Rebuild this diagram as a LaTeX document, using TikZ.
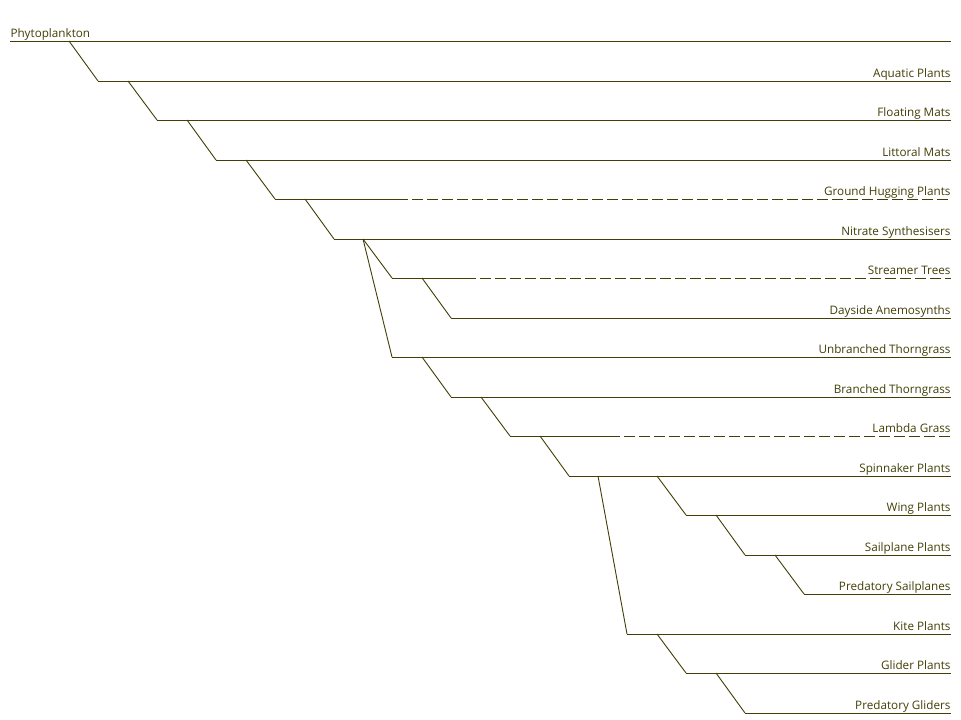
\documentclass[tikz,border=0pt]{standalone}
\usepackage{fontspec}
\setmainfont{Open Sans}
\definecolor{ink}{RGB}{66,62,6}
\begin{document}
\begin{tikzpicture}[x=1pt,y=-1pt,
  line width=1pt,
  branch/.style={draw=ink,line width=0.9pt},
  stem/.style={draw=ink,line width=1pt},
  dashstem/.style={draw=ink,line width=1pt,dash pattern=on 11pt off 4pt},
  lab/.style={anchor=base east,inner sep=0pt,yshift=3.5pt,text=ink,font=\fontsize{11.7}{14}\selectfont},
  root/.style={anchor=base west,inner sep=0pt,yshift=3.5pt,text=ink,font=\fontsize{11.7}{14}\selectfont}]
\useasboundingbox (0,0) rectangle (961,720);
% row coordinates: s = line start, e = line end
\coordinate (s0) at (10,41);   \coordinate (e0) at (951,41);
\coordinate (s1) at (98,81);   \coordinate (e1) at (951,81);
\coordinate (s2) at (157,120); \coordinate (e2) at (951,120);
\coordinate (s3) at (216,160); \coordinate (e3) at (951,160);
\coordinate (s4) at (275,199); \coordinate (e4) at (951,199);
\coordinate (s5) at (334,239); \coordinate (e5) at (951,239);
\coordinate (s6) at (392,278); \coordinate (e6) at (951,278);
\coordinate (s7) at (451,318); \coordinate (e7) at (951,318);
\coordinate (s8) at (392,357); \coordinate (e8) at (951,357);
\coordinate (s9) at (451,397); \coordinate (e9) at (951,397);
\coordinate (s10) at (510,436); \coordinate (e10) at (951,436);
\coordinate (s11) at (569,476); \coordinate (e11) at (951,476);
\coordinate (s12) at (686,515); \coordinate (e12) at (951,515);
\coordinate (s13) at (745,555); \coordinate (e13) at (951,555);
\coordinate (s14) at (804,594); \coordinate (e14) at (951,594);
\coordinate (s15) at (627,634); \coordinate (e15) at (951,634);
\coordinate (s16) at (686,673); \coordinate (e16) at (951,673);
\coordinate (s17) at (745,713); \coordinate (e17) at (951,713);
% branch points on parent lines
\coordinate (b1) at (69,41);
\coordinate (b2) at (128,81);
\coordinate (b3) at (187,120);
\coordinate (b4) at (246,160);
\coordinate (b5) at (305,199);
\coordinate (b6) at (363,239);
\coordinate (b7) at (422,278);
\coordinate (b9) at (422,357);
\coordinate (b10) at (481,397);
\coordinate (b11) at (540,436);
\coordinate (b12) at (657,476);
\coordinate (b13) at (716,515);
\coordinate (b14) at (775,555);
\coordinate (b15) at (598,476);
\coordinate (b16) at (657,634);
\coordinate (b17) at (716,673);
% dashed segments
\coordinate (d4a) at (408,199); \coordinate (d4b) at (412,199);
\coordinate (d6a) at (476,278); \coordinate (d6b) at (480,278);
\coordinate (d10a) at (620,436); \coordinate (d10b) at (624,436);
% horizontal stems
\draw[stem] (s0) -- (e0);
\draw[stem] (s1) -- (e1);
\draw[stem] (s2) -- (e2);
\draw[stem] (s3) -- (e3);
\draw[stem] (s4) -- (d4a); \draw[dashstem] (d4b) -- (e4);
\draw[stem] (s5) -- (e5);
\draw[stem] (s6) -- (d6a); \draw[dashstem] (d6b) -- (e6);
\draw[stem] (s7) -- (e7);
\draw[stem] (s8) -- (e8);
\draw[stem] (s9) -- (e9);
\draw[stem] (s10) -- (d10a); \draw[dashstem] (d10b) -- (e10);
\draw[stem] (s11) -- (e11);
\draw[stem] (s12) -- (e12);
\draw[stem] (s13) -- (e13);
\draw[stem] (s14) -- (e14);
\draw[stem] (s15) -- (e15);
\draw[stem] (s16) -- (e16);
\draw[stem] (s17) -- (e17);
% diagonal branches
\draw[branch] (b1) -- (s1);
\draw[branch] (b2) -- (s2);
\draw[branch] (b3) -- (s3);
\draw[branch] (b4) -- (s4);
\draw[branch] (b5) -- (s5);
\draw[branch] (b6) -- (s6);
\draw[branch] (b7) -- (s7);
\draw[branch] (b6) -- (s8);
\draw[branch] (b9) -- (s9);
\draw[branch] (b10) -- (s10);
\draw[branch] (b11) -- (s11);
\draw[branch] (b12) -- (s12);
\draw[branch] (b13) -- (s13);
\draw[branch] (b14) -- (s14);
\draw[branch] (b15) -- (s15);
\draw[branch] (b16) -- (s16);
\draw[branch] (b17) -- (s17);
% labels
\node[root] (l0) at (s0) {Phytoplankton};
\node[lab] (l1) at (e1) {Aquatic Plants};
\node[lab] (l2) at (e2) {Floating Mats};
\node[lab] (l3) at (e3) {Littoral Mats};
\node[lab] (l4) at (e4) {Ground Hugging Plants};
\node[lab] (l5) at (e5) {Nitrate Synthesisers};
\node[lab] (l6) at (e6) {Streamer Trees};
\node[lab] (l7) at (e7) {Dayside Anemosynths};
\node[lab] (l8) at (e8) {Unbranched Thorngrass};
\node[lab] (l9) at (e9) {Branched Thorngrass};
\node[lab] (l10) at (e10) {Lambda Grass};
\node[lab] (l11) at (e11) {Spinnaker Plants};
\node[lab] (l12) at (e12) {Wing Plants};
\node[lab] (l13) at (e13) {Sailplane Plants};
\node[lab] (l14) at (e14) {Predatory Sailplanes};
\node[lab] (l15) at (e15) {Kite Plants};
\node[lab] (l16) at (e16) {Glider Plants};
\node[lab] (l17) at (e17) {Predatory Gliders};
\end{tikzpicture}
\end{document}
